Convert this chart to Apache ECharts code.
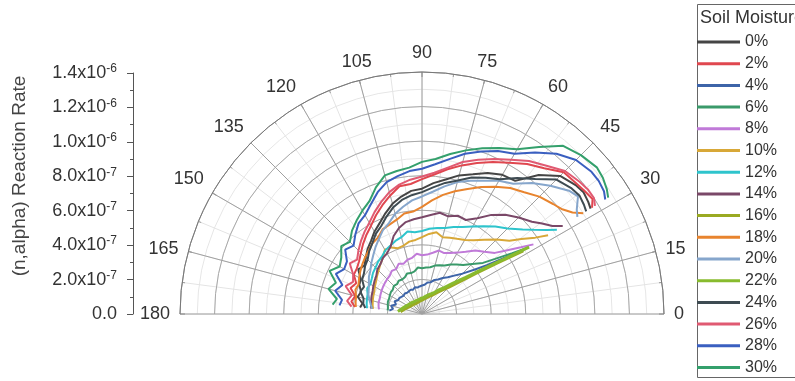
<!DOCTYPE html>
<html>
<head>
<meta charset="utf-8">
<script src="https://cdn.jsdelivr.net/npm/echarts@6/dist/echarts.min.js"></script>
<style>
  html, body { margin: 0; padding: 0; background: #fff; }
  #chart { width: 795px; height: 381px; }
</style>
</head>
<body>
<div id="chart"></div>
<script>
// angle (degrees) of every sample, shared by all curves
const angles = [32, 34, 37, 40, 45, 50, 55, 60, 65, 70, 75, 80, 85, 90, 95, 100, 105, 110, 115, 120, 125, 130, 135, 140, 145, 150, 155, 160, 165, 170, 174];

const moistures = ['0%', '2%', '4%', '6%', '8%', '10%', '12%', '14%', '16%', '18%', '20%', '22%', '24%', '26%', '28%', '30%'];
const colors = ['#454545', '#e0474f', '#3d64a8', '#3a9a6a', '#c07ad8', '#d8a838', '#2ec4cc', '#7a4868',
  '#9aaa22', '#e8842e', '#86a6cc', '#88bb2e', '#3e4b52', '#e05a72', '#3a5fc0', '#34a06c'];

// reaction rate, in units of 1e-7
const r00 = [11.5, 11.6, 11.7, 11.6, 11.3, 10.5, 9.4, 9.3, 9.0, 8.6, 8.3, 7.9, 7.6, 7.25, 7.15, 6.9, 6.6, 6.2, 5.8, 5.5, 5.15, 4.9, 4.6, 4.35, 4.5, 4.1, 4.0, 3.75, 3.85, 3.5, 3.6];
const r02 = [11.6, 11.9, 11.8, 11.7, 11.6, 11.0, 10.6, 10.1, 9.7, 9.3, 8.9, 8.5, 8.1, 7.8, 7.55, 7.5, 7.1, 6.7, 6.3, 5.9, 5.6, 5.3, 5.0, 4.75, 4.6, 4.55, 4.2, 4.4, 4.0, 4.15, 3.9];
const r04 = [6.9, 5.9, 4.7, 4.0, 3.3, 2.9, 2.6, 2.4, 2.2, 2.1, 1.9, 1.85, 1.7, 1.65, 1.6, 1.55, 1.6, 1.5, 1.55, 1.5, 1.5, 1.55, 1.5, 1.55, 1.6, 1.6, 1.75, 1.6, 1.85, 1.7, 1.9];
const r06 = [7.3, 6.3, 5.3, 4.6, 4.1, 3.7, 3.5, 3.3, 3.1, 3.0, 2.9, 2.75, 2.7, 2.65, 2.7, 2.5, 2.45, 2.5, 2.35, 2.3, 2.35, 2.25, 2.3, 2.2, 2.2, 2.15, 2.1, 2.1, 2.05, 2.0, 2.0];
const r08 = [7.6, 6.9, 6.1, 5.5, 5.1, 4.8, 4.4, 4.1, 3.9, 3.75, 3.8, 3.6, 3.45, 3.4, 3.5, 3.3, 3.25, 3.1, 3.2, 3.0, 3.05, 2.9, 2.85, 2.8, 2.75, 2.7, 2.65, 2.6, 2.6, 2.55, 2.5];
const r10 = [8.6, 7.9, 7.2, 6.6, 6.1, 5.6, 5.2, 4.95, 4.8, 4.7, 4.6, 4.8, 4.65, 4.45, 4.3, 4.25, 4.1, 4.05, 4.25, 4.3, 3.95, 3.75, 3.55, 3.4, 3.25, 3.15, 3.05, 3.0, 2.95, 2.9, 2.85];
const r12 = [9.2, 8.7, 8.1, 7.6, 7.0, 6.6, 6.2, 5.85, 5.55, 5.35, 5.15, 5.05, 4.95, 4.8, 4.75, 4.85, 4.6, 4.5, 4.35, 4.25, 4.05, 3.95, 3.8, 3.7, 3.55, 3.45, 3.5, 3.35, 3.3, 3.25, 3.2];
const r14 = [9.6, 9.1, 8.7, 8.3, 7.9, 7.5, 7.0, 6.4, 6.0, 6.05, 5.85, 5.95, 5.75, 5.6, 5.5, 5.4, 5.15, 4.8, 4.3, 4.05, 3.95, 3.75, 3.65, 3.45, 3.35, 3.25, 3.15, 3.1, 3.05, 3.0, 2.95];
const r16 = [6.9, 5.3, 3.9, 3.0, 2.2, 1.8, 1.5, 1.3, 1.15, 1.05, 0.95, 0.9, 0.85, 0.8, 0.75, 0.75, 0.7, 0.7, 0.7, 0.7, 0.72, 0.72, 0.75, 0.78, 0.8, 0.85, 0.9, 0.95, 1.05, 1.15, 1.25];
const r18 = [11.0, 10.5, 10.1, 9.9, 9.6, 9.2, 8.9, 8.5, 8.1, 7.7, 7.35, 7.0, 6.6, 6.2, 5.95, 5.9, 5.65, 5.5, 5.4, 5.1, 5.0, 4.8, 4.65, 4.5, 4.35, 4.2, 4.05, 4.1, 3.95, 3.9, 3.85];
const r20 = [10.6, 10.8, 11.3, 11.1, 10.5, 9.9, 9.2, 8.9, 8.5, 8.2, 7.9, 7.5, 7.1, 6.8, 6.6, 6.3, 6.0, 5.6, 5.35, 5.0, 4.7, 4.4, 4.15, 3.9, 3.75, 3.55, 3.4, 3.3, 3.15, 3.0, 2.9];
const r22 = [7.3, 5.6, 4.2, 3.3, 2.5, 2.0, 1.7, 1.45, 1.3, 1.2, 1.1, 1.0, 0.95, 0.9, 0.9, 0.85, 0.85, 0.8, 0.85, 0.8, 0.85, 0.85, 0.9, 0.9, 0.95, 1.0, 1.05, 1.1, 1.2, 1.3, 1.4];
const r24 = [11.2, 11.3, 11.4, 11.3, 11.0, 10.2, 9.6, 9.0, 8.7, 8.4, 8.0, 7.7, 7.35, 7.05, 6.9, 6.7, 6.4, 6.0, 5.6, 5.35, 5.0, 4.75, 4.45, 4.3, 4.1, 4.0, 3.7, 3.8, 3.5, 3.45, 3.3];
const r26 = [11.8, 12.0, 12.0, 11.9, 11.7, 11.2, 10.8, 10.3, 9.9, 9.5, 9.1, 8.6, 8.2, 7.95, 7.8, 7.6, 7.3, 6.9, 6.5, 6.1, 5.8, 5.5, 5.2, 4.9, 5.1, 4.6, 4.4, 4.7, 4.2, 4.4, 4.1];
const r28 = [12.5, 12.7, 12.8, 12.8, 12.6, 12.1, 11.4, 10.7, 10.4, 10.0, 9.6, 9.1, 8.7, 8.4, 8.3, 8.1, 7.9, 7.5, 7.0, 6.6, 6.4, 6.0, 5.6, 5.8, 5.3, 5.2, 5.5, 4.9, 5.2, 4.7, 4.8];
const r30 = [12.7, 12.9, 13.1, 13.2, 13.0, 12.7, 11.8, 11.0, 10.6, 10.2, 9.8, 9.4, 9.0, 8.8, 8.5, 8.4, 8.3, 7.8, 7.2, 6.9, 6.6, 6.3, 5.9, 6.1, 5.7, 5.5, 5.9, 5.3, 5.6, 5.0, 5.2];

const rates = [r00, r02, r04, r06, r08, r10, r12, r14, r16, r18, r20, r22, r24, r26, r28, r30];

// left axis labels, one per 2e-7 step
const tickLabels = ['0.0', '2.0x10^-7', '4.0x10^-7', '6.0x10^-7', '8.0x10^-7', '1.0x10^-6', '1.2x10^-6', '1.4x10^-6'];

const font = '"Liberation Sans", Arial, sans-serif';
const chart = echarts.init(document.getElementById('chart'));

const series = moistures.map((name, i) => ({
  name: name,
  type: 'line',
  coordinateSystem: 'polar',
  polarIndex: 1,
  data: angles.map((a, j) => [rates[i][j], a]),
  symbol: 'none',
  silent: true,
  lineStyle: { width: (name === '16%' || name === '22%') ? 3 : 2, color: colors[i] },
  itemStyle: { color: colors[i] }
}));

// polar 0 only carries the light minor grid, polar 1 the main grid and data
const angleBase = { type: 'value', min: 0, max: 180, startAngle: 0, endAngle: 180, clockwise: false };

chart.setOption({
  animation: false,
  textStyle: { fontFamily: font, color: '#333' },
  polar: [
    { center: [422, 314], radius: 242 },
    { center: [422, 314], radius: 242 }
  ],
  angleAxis: [
    Object.assign({}, angleBase, {
      polarIndex: 0, z: 0, interval: 7.5,
      axisLine: { show: false }, axisTick: { show: false }, axisLabel: { show: false },
      splitLine: { show: true, lineStyle: { color: '#e4e4e4' } }
    }),
    Object.assign({}, angleBase, {
      polarIndex: 1, z: 1, interval: 15,
      axisLine: { lineStyle: { color: '#777' } },
      axisTick: { show: true, inside: true, length: 5, lineStyle: { color: '#777' } },
      minorTick: { show: true, splitNumber: 2, length: 3, lineStyle: { color: '#999' } },
      axisLabel: { fontSize: 18, color: '#333', margin: 10, fontFamily: font },
      splitLine: { show: true, lineStyle: { color: '#a0a0a0' } }
    })
  ],
  radiusAxis: [
    {
      polarIndex: 0, z: 0, type: 'value', min: 0, max: 14, interval: 1,
      axisLine: { show: false }, axisTick: { show: false }, axisLabel: { show: false },
      splitLine: { show: true, lineStyle: { color: '#e6e6e6' } }
    },
    {
      polarIndex: 1, z: 1, type: 'value', min: 0, max: 14, interval: 2,
      axisLine: { show: false }, axisTick: { show: false }, axisLabel: { show: false },
      splitLine: { show: true, lineStyle: { color: '#a8a8a8' } }
    }
  ],
  grid: { left: 133, top: 73, width: 10, height: 241 },
  xAxis: { type: 'value', show: false },
  yAxis: {
    type: 'value',
    min: 0,
    max: 14,
    interval: 2,
    axisLine: { show: true, lineStyle: { color: '#555' } },
    axisTick: { show: true, length: 6, lineStyle: { color: '#555' } },
    minorTick: { show: true, splitNumber: 2, length: 3, lineStyle: { color: '#555' } },
    splitLine: { show: false },
    axisLabel: {
      margin: 16,
      formatter: function (v) {
        const t = tickLabels[Math.round(v / 2)];
        const parts = t.split('^');
        return parts[1] ? '{b|' + parts[0] + '}{s|' + parts[1] + '}' : '{b|' + parts[0] + '}';
      },
      rich: {
        b: { fontSize: 18, color: '#333', lineHeight: 20, fontFamily: font },
        s: { fontSize: 12, color: '#333', lineHeight: 12, verticalAlign: 'top', fontFamily: font }
      }
    }
  },
  legend: {
    orient: 'vertical',
    left: 697,
    top: 34,
    padding: 0,
    icon: 'rect',
    itemWidth: 43,
    itemHeight: 3,
    itemGap: 5.7,
    selectedMode: false,
    data: moistures,
    textStyle: { fontSize: 16, color: '#333', lineHeight: 16, fontFamily: font }
  },
  graphic: [
    { type: 'rect', shape: { x: 697.5, y: 4.5, width: 120, height: 373 }, style: { fill: 'none', stroke: '#666', lineWidth: 1 } },
    { type: 'text', x: 700, y: 18, style: { text: 'Soil Moisture', fontSize: 18, fontFamily: font, fill: '#333', verticalAlign: 'middle' } },
    { type: 'text', x: 20, y: 176, rotation: Math.PI / 2, style: { text: '(n,alpha) Reaction Rate', fontSize: 19, fontFamily: font, fill: '#444', align: 'center', verticalAlign: 'middle' } }
  ],
  series: series
});
</script>
</body>
</html>
